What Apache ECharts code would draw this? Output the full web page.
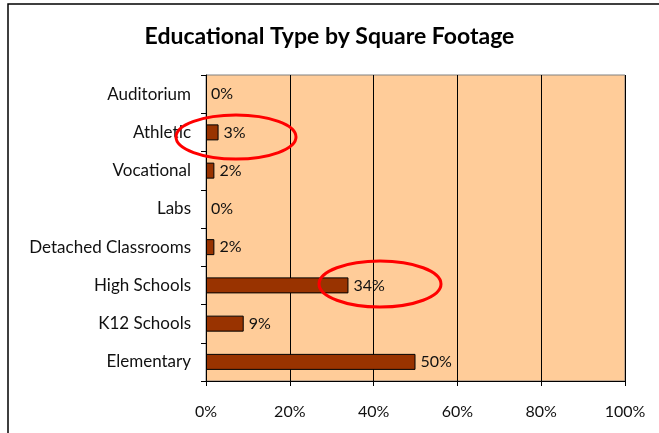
<!DOCTYPE html>
<html>
<head>
    <meta charset="UTF-8">
    <title>Educational Type by Square Footage</title>
    <style>
        html,body{margin:0;padding:0;background:#fff;}
        #main{width:659px;height:433px;}
    </style>
</head>
<body>
<div id="main"></div>
<script src="https://cdn.jsdelivr.net/npm/echarts@6/dist/echarts.min.js"></script>
<script>
    // data, bottom to top as echarts draws category axes
    var categories = ['Elementary', 'K12 Schools', 'High Schools', 'Detached Classrooms', 'Labs', 'Vocational', 'Athletic', 'Auditorium'];
    var shares = [50, 9, 34, 2, 0, 2, 3, 0];
    var xTicks = [0, 20, 40, 60, 80, 100];

    var font = 'Lato, "Open Sans", sans-serif';
    var myChart = echarts.init(document.getElementById('main'));

    // zero bars get no outline, like the original
    var barData = shares.map(function (v) {
        return {value: v, itemStyle: {borderWidth: v === 0 ? 0 : 1}};
    });

    var option = {
        backgroundColor: '#fff',
        animation: false,
        title: {
            text: 'Educational Type by Square Footage',
            left: 'center',
            top: 20,
            textStyle: {
                fontFamily: font,
                fontSize: 23,
                fontWeight: 'bold',
                color: '#000'
            }
        },
        grid: {
            left: 206,
            right: 34,
            top: 75,
            bottom: 52,
            show: true,
            backgroundColor: '#ffcc99',
            borderColor: '#808080',
            borderWidth: 1
        },
        xAxis: {
            type: 'value',
            min: xTicks[0],
            max: xTicks[xTicks.length - 1],
            interval: 20,
            axisLine: {show: true, lineStyle: {color: '#000', width: 1}},
            axisTick: {show: true, length: 5, lineStyle: {color: '#000'}},
            splitLine: {show: true, lineStyle: {color: '#000', width: 1}},
            axisLabel: {
                formatter: '{value}%',
                margin: 23,
                fontFamily: font,
                fontSize: 16,
                color: '#111'
            }
        },
        yAxis: {
            type: 'category',
            data: categories,
            axisLine: {show: true, lineStyle: {color: '#000', width: 1}},
            axisTick: {show: true, length: 5, lineStyle: {color: '#000'}},
            axisLabel: {
                margin: 15,
                fontFamily: font,
                fontSize: 17,
                color: '#111'
            }
        },
        series: [{
            type: 'bar',
            data: barData,
            barWidth: 16,
            itemStyle: {
                color: '#993300',
                borderColor: '#000',
                borderWidth: 1
            },
            label: {
                show: true,
                position: 'right',
                distance: 5,
                formatter: '{c}%',
                fontFamily: font,
                fontSize: 16,
                color: '#111'
            }
        }],
        graphic: [
            {
                type: 'rect',
                shape: {x: 8, y: 4, width: 700, height: 500},
                style: {fill: 'none', stroke: '#000', lineWidth: 1.5},
                silent: true
            },
            {
                type: 'ellipse',
                shape: {cx: 236, cy: 137, rx: 60, ry: 22},
                style: {fill: 'none', stroke: '#ff0000', lineWidth: 3},
                z: 100,
                silent: true
            },
            {
                type: 'ellipse',
                shape: {cx: 380, cy: 284, rx: 61, ry: 23},
                style: {fill: 'none', stroke: '#ff0000', lineWidth: 3},
                z: 100,
                silent: true
            }
        ]
    };
    myChart.setOption(option);
</script>
</body>
</html>
